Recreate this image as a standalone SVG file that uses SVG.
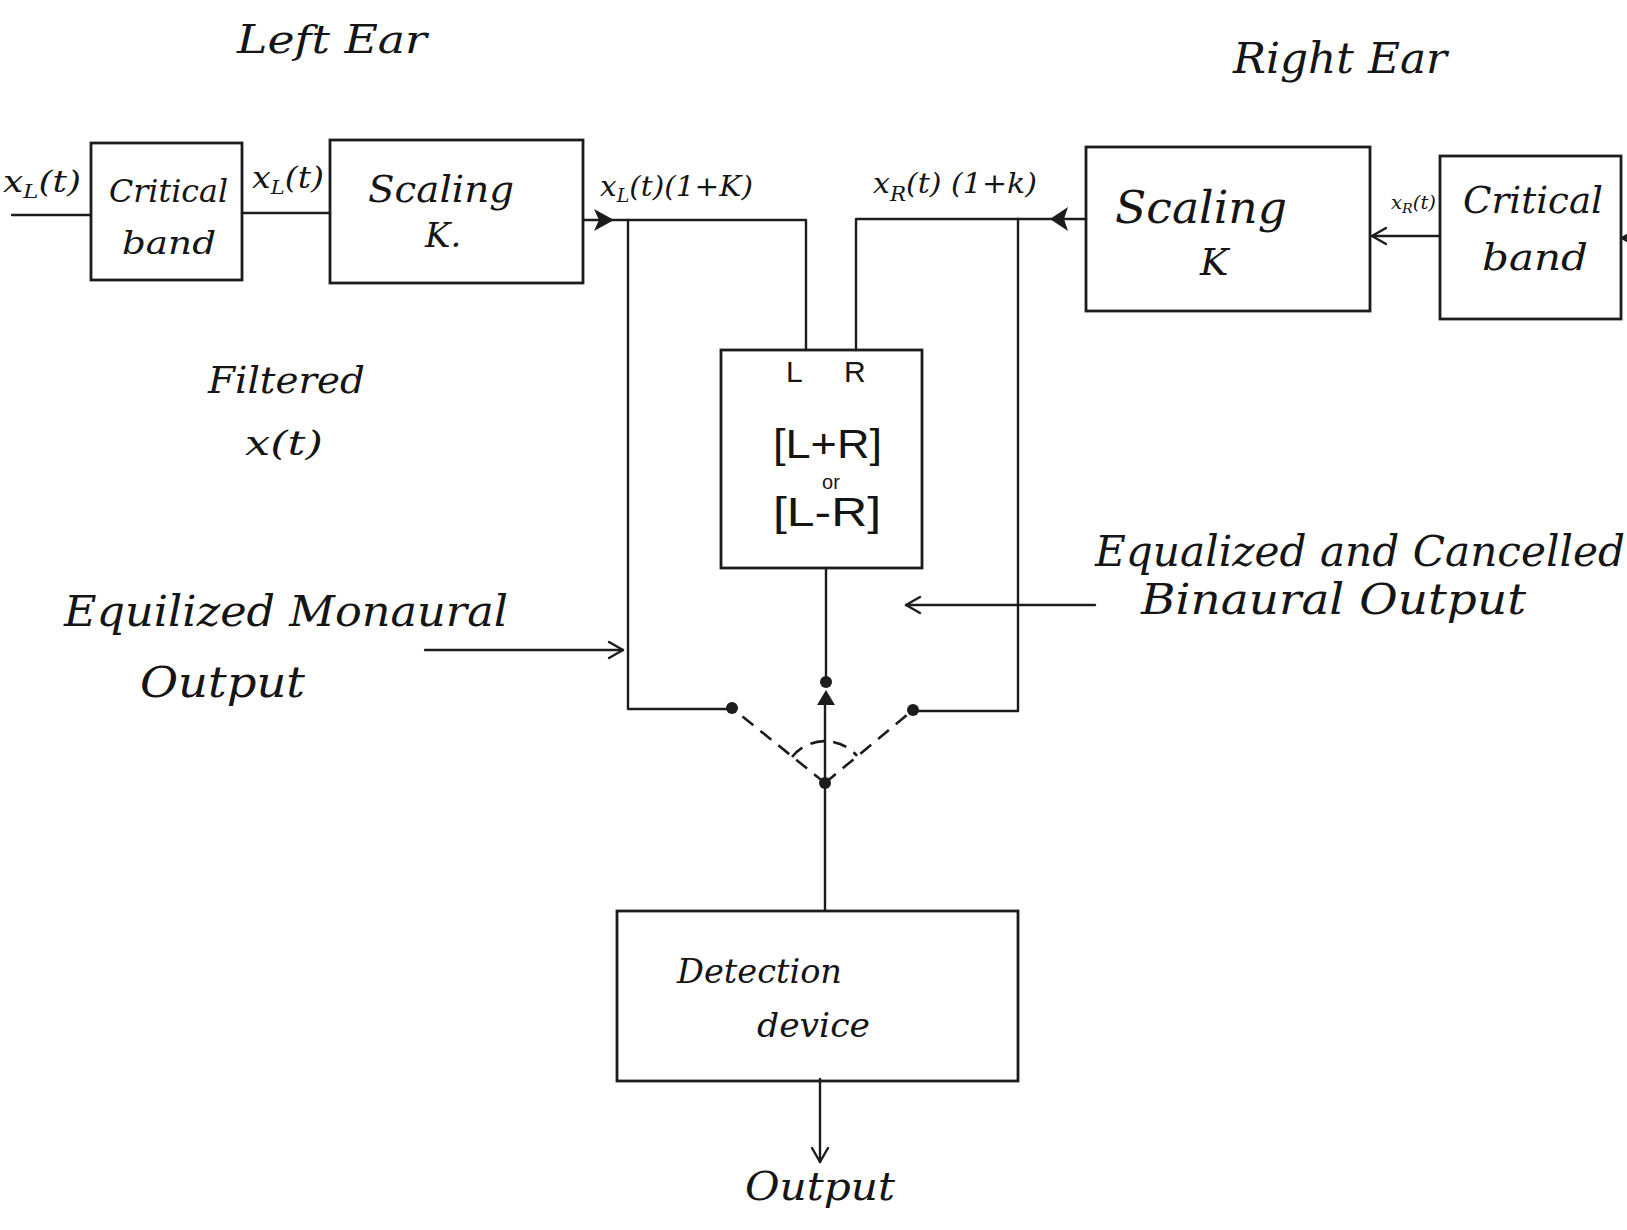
<svg xmlns="http://www.w3.org/2000/svg" width="1627" height="1230" viewBox="0 0 1627 1230">
<style>
.box{fill:none;stroke:#1c1c1c;stroke-width:2.8}
.ln{fill:none;stroke:#1c1c1c;stroke-width:2.4;stroke-linecap:round;stroke-linejoin:round}
.dash{fill:none;stroke:#1c1c1c;stroke-width:2.6;stroke-dasharray:14 9}
.fill{fill:#1c1c1c;stroke:none}
.t{font-family:"DejaVu Serif","Liberation Serif",serif;font-style:italic;fill:#151515}
.u{font-family:"Liberation Sans",sans-serif;fill:#151515}
</style>
<defs>
<marker id="open" viewBox="0 0 20 20" refX="18" refY="10" markerWidth="20" markerHeight="20" markerUnits="userSpaceOnUse" orient="auto">
<path d="M4 2 L18 10 L4 18" fill="none" stroke="#1c1c1c" stroke-width="2.4" stroke-linecap="round" stroke-linejoin="round"/>
</marker>
</defs>
<rect width="1627" height="1230" fill="#ffffff"/>

<g id="titles">
<text class="t" x="237" y="53" font-size="40" textLength="190" lengthAdjust="spacingAndGlyphs">Left Ear</text>
<text class="t" x="1233" y="73" font-size="42" textLength="214" lengthAdjust="spacingAndGlyphs">Right Ear</text>
<text class="t" x="208" y="393" font-size="38" textLength="157" lengthAdjust="spacingAndGlyphs">Filtered</text>
<text class="t" x="245" y="455" font-size="34" textLength="78" lengthAdjust="spacingAndGlyphs">x(t)</text>
</g>

<g id="connectors">
<path class="ln" d="M12 215 H91"/>
<path class="ln" d="M242 213 H330"/>
<path class="ln" d="M583 220 H806 V350"/>
<polygon class="fill" points="594,209 614,220 594,231 599,220"/>
<path class="ln" d="M628 220 V709 H732"/>
<path class="ln" d="M1086 219 H856 V350"/>
<polygon class="fill" points="1068,207 1050,219 1068,231 1064,219"/>
<path class="ln" d="M1018 219 V711 H913"/>
<path class="ln" d="M826 568 V682"/>
<polygon class="fill" points="826,690 817,705 835,705"/>
<path class="ln" d="M825 705 V910"/>
<path class="dash" d="M825 783 L732 708"/>
<path class="dash" d="M825 783 L913 710"/>
<path class="dash" d="M792 757 A42 42 0 0 1 857 756"/>
<circle class="fill" cx="732" cy="708" r="6"/>
<circle class="fill" cx="913" cy="710" r="6"/>
<circle class="fill" cx="826" cy="682" r="6"/>
<circle class="fill" cx="825" cy="783" r="6"/>
<path class="ln" d="M820 1079 V1162" marker-end="url(#open)"/>
<path class="ln" d="M1440 236 H1372" marker-end="url(#open)"/>
<path class="ln" d="M1634 238 H1622" marker-end="url(#open)"/>
<path class="ln" d="M425 650 H623" marker-end="url(#open)"/>
<path class="ln" d="M1095 605 H906" marker-end="url(#open)"/>
</g>

<g id="signal-labels">
<text class="t" x="3" y="192" font-size="30" textLength="78" lengthAdjust="spacingAndGlyphs">x<tspan font-size="19" dy="6">L</tspan><tspan dy="-6">(t)</tspan></text>
<text class="t" x="252" y="188" font-size="30" textLength="72" lengthAdjust="spacingAndGlyphs">x<tspan font-size="19" dy="6">L</tspan><tspan dy="-6">(t)</tspan></text>
<text class="t" x="600" y="196" font-size="28" textLength="153" lengthAdjust="spacingAndGlyphs">x<tspan font-size="18" dy="6">L</tspan><tspan dy="-6">(t)(1+K)</tspan></text>
<text class="t" x="873" y="193" font-size="28" textLength="164" lengthAdjust="spacingAndGlyphs">x<tspan font-size="20" dy="8">R</tspan><tspan dy="-8">(t) (1+k)</tspan></text>
<text class="t" x="1391" y="209" font-size="18" textLength="45" lengthAdjust="spacingAndGlyphs">x<tspan font-size="13" dy="4">R</tspan><tspan dy="-4">(t)</tspan></text>
<text class="t" x="64" y="626" font-size="42" textLength="444" lengthAdjust="spacingAndGlyphs">Equilized Monaural</text>
<text class="t" x="140" y="697" font-size="42" textLength="165" lengthAdjust="spacingAndGlyphs">Output</text>
<text class="t" x="1095" y="566" font-size="42" textLength="530" lengthAdjust="spacingAndGlyphs">Equalized and Cancelled</text>
<text class="t" x="1141" y="614" font-size="42" textLength="385" lengthAdjust="spacingAndGlyphs">Binaural Output</text>
<text class="t" x="745" y="1200" font-size="40" textLength="150" lengthAdjust="spacingAndGlyphs">Output</text>
</g>

<g id="critical-band-left">
<rect class="box" x="91" y="143" width="151" height="137"/>
<text class="t" x="109" y="202" font-size="32" textLength="119" lengthAdjust="spacingAndGlyphs">Critical</text>
<text class="t" x="122" y="254" font-size="32" textLength="94" lengthAdjust="spacingAndGlyphs">band</text>
</g>

<g id="scaling-left">
<rect class="box" x="330" y="140" width="253" height="143"/>
<text class="t" x="368" y="202" font-size="38" textLength="146" lengthAdjust="spacingAndGlyphs">Scaling</text>
<text class="t" x="425" y="247" font-size="34">K.</text>
</g>

<g id="scaling-right">
<rect class="box" x="1086" y="147" width="284" height="164"/>
<text class="t" x="1115" y="223" font-size="44" textLength="172" lengthAdjust="spacingAndGlyphs">Scaling</text>
<text class="t" x="1200" y="275" font-size="38">K</text>
</g>

<g id="critical-band-right">
<rect class="box" x="1440" y="156" width="181" height="163"/>
<text class="t" x="1463" y="213" font-size="38" textLength="140" lengthAdjust="spacingAndGlyphs">Critical</text>
<text class="t" x="1482" y="270" font-size="38" textLength="106" lengthAdjust="spacingAndGlyphs">band</text>
</g>

<g id="combiner">
<rect class="box" x="721" y="350" width="201" height="218"/>
<text class="u" x="786" y="382" font-size="30">L</text>
<text class="u" x="844" y="382" font-size="30">R</text>
<text class="u" x="773" y="458" font-size="40" textLength="109" lengthAdjust="spacingAndGlyphs">[L+R]</text>
<text class="u" x="831" y="489" font-size="20" text-anchor="middle">or</text>
<text class="u" x="773" y="526" font-size="40" textLength="108" lengthAdjust="spacingAndGlyphs">[L-R]</text>
</g>

<g id="detection-device">
<rect class="box" x="617" y="911" width="401" height="170"/>
<text class="t" x="677" y="983" font-size="34" textLength="165" lengthAdjust="spacingAndGlyphs">Detection</text>
<text class="t" x="757" y="1037" font-size="34" textLength="113" lengthAdjust="spacingAndGlyphs">device</text>
</g>
</svg>
